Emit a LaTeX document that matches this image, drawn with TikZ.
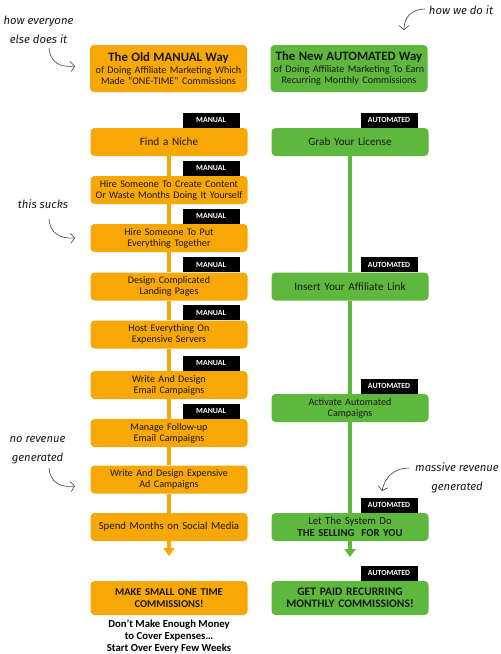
\documentclass[tikz,border=0pt]{standalone}
\usepackage{fontspec}
\setmainfont{Carlito}
\newfontfamily\handfont{Fira Sans}
\usetikzlibrary{arrows.meta}

\definecolor{oldorange}{RGB}{248,168,6}
\definecolor{newgreen}{RGB}{94,184,62}
\definecolor{inktext}{RGB}{25,25,25}

\tikzset{
	stepbox/.style={rounded corners=4pt, minimum width=157pt, minimum height=28pt, inner sep=1pt,
		text width=155pt, align=center, text=inktext, font=\fontsize{10.1}{10.8}\selectfont},
	oldbox/.style={stepbox, fill=oldorange},
	newbox/.style={stepbox, fill=newgreen},
	headbox/.style={stepbox, minimum height=47pt},
	endbox/.style={stepbox, minimum height=34pt, font=\bfseries\fontsize{10.5}{11.5}\selectfont},
	tagbox/.style={fill=black, text=white, font=\bfseries\fontsize{7.8}{8}\selectfont,
		minimum width=57pt, minimum height=15pt, inner sep=0pt, anchor=south east},
	oldline/.style={oldorange, line width=3.5pt},
	newline/.style={newgreen, line width=3.5pt},
	flowtip/.style={-{Triangle[width=11pt,length=8pt]}},
	note/.style={font=\handfont\itshape\fontsize{11.3}{19}\selectfont, text=inktext, align=center, inner sep=0pt},
	notearrow/.style={-{Straight Barb[length=4pt,width=10pt]}, black!75, line width=0.6pt}
}

\begin{document}
\begin{tikzpicture}[x=1pt, y=-1pt]
	\useasboundingbox (0,0) rectangle (501,654);

	% headers
	\node[headbox, fill=oldorange] (oldhead) at (168.5,68.5)
		{{\bfseries\fontsize{12.8}{14}\selectfont The Old MANUAL Way}\\[1pt]of Doing Affiliate Marketing Which\\Made ``ONE-TIME'' Commissions};
	\node[headbox, fill=newgreen] (newhead) at (349,68.5)
		{{\bfseries\fontsize{12.8}{14}\selectfont The New AUTOMATED Way}\\[1pt]of Doing Affiliate Marketing To Earn\\Recurring Monthly Commissions};

	% manual column
	\node[oldbox, font=\fontsize{11.2}{12}\selectfont] (niche) at (169,142) {Find a Niche};
	\node[oldbox] (content) at (169,190) {Hire Someone To Create Content\\Or Waste Months Doing It Yourself};
	\node[oldbox] (together) at (169,238) {Hire Someone To Put\\Everything Together};
	\node[oldbox] (landing) at (169,286.5) {Design Complicated\\Landing Pages};
	\node[oldbox] (servers) at (169,334.5) {Host Everything On\\Expensive Servers};
	\node[oldbox] (email) at (169,385) {Write And Design\\Email Campaigns};
	\node[oldbox] (followup) at (169,433) {Manage Follow-up\\Email Campaigns};
	\node[oldbox] (ads) at (169,479.5) {Write And Design Expensive\\Ad Campaigns};
	\node[oldbox, font=\fontsize{10.8}{12}\selectfont] (social) at (169,527) {Spend Months on Social Media};
	\node[oldbox, endbox] (small) at (169,598) {MAKE SMALL ONE TIME\\COMMISSIONS!};
	\node[font=\bfseries\fontsize{10.7}{12}\selectfont, align=center, text=black, inner sep=0pt] (broke) at (169,636)
		{Don't Make Enough Money\\to Cover Expenses\dots\\Start Over Every Few Weeks};
	\coordinate (oldend) at (169,556);

	% automated column
	\node[newbox, font=\fontsize{11.2}{12}\selectfont] (license) at (350,142) {Grab Your License};
	\node[newbox, font=\fontsize{11.2}{12}\selectfont] (affiliate) at (350,286.5) {Insert Your Affiliate Link};
	\node[newbox] (activate) at (350,408) {Activate Automated\\Campaigns};
	\node[newbox, font=\fontsize{10.7}{11.5}\selectfont] (selling) at (350,527) {Let The System Do\\\textbf{THE SELLING\ \ FOR YOU}};
	\node[newbox, endbox, font=\bfseries\fontsize{11.5}{12.5}\selectfont] (paid) at (350,598) {GET PAID RECURRING\\MONTHLY COMMISSIONS!};
	\coordinate (newend) at (350,557);

	% tags
	\foreach \b in {niche, content, together, landing, servers, email, followup}
		\node[tagbox] (tag-\b) at ([xshift=-8pt]\b.north east) {MANUAL};
	\foreach \b in {license, affiliate, activate, selling, paid}
		\node[tagbox] (tag-\b) at ([xshift=-11pt]\b.north east) {AUTOMATED};

	% connectors
	\draw[oldline] (niche) -- (content);
	\draw[oldline] (content) -- (together);
	\draw[oldline] (together) -- (landing);
	\draw[oldline] (landing) -- (servers);
	\draw[oldline] (servers) -- (email);
	\draw[oldline] (email) -- (followup);
	\draw[oldline] (followup) -- (ads);
	\draw[oldline] (ads) -- (social);
	\draw[oldline, flowtip] (social.south) -- (oldend);
	\draw[newline] (license) -- (affiliate);
	\draw[newline] (affiliate) -- (activate);
	\draw[newline] (activate) -- (selling);
	\draw[newline, flowtip] (selling.south) -- (newend);

	% hand notes
	\node[note] (noteothers) at (38.5,30) {how everyone\\else does it};
	\node[note] (noteus) at (461,10) {how we do it};
	\node[note] (notesucks) at (43,204) {this sucks};
	\node[note] (noteno) at (37.5,450) {no revenue\\generated};
	\node[note] (notemass) at (457,477.5) {massive revenue\\generated};
	\coordinate (aimothers) at (75,66);
	\coordinate (aimus) at (404,30);
	\coordinate (aimsucks) at (75,238);
	\coordinate (aimno) at (75,486);
	\coordinate (aimmass) at (382,491);
	\draw[notearrow] (49,48) .. controls (50,62) and (60,68) .. (aimothers);
	\draw[notearrow] (425,9) .. controls (412,9) and (404,17) .. (aimus);
	\draw[notearrow] (49,219) .. controls (50,233) and (60,239) .. (aimsucks);
	\draw[notearrow] (49,468) .. controls (50,482) and (60,488) .. (aimno);
	\draw[notearrow] (409,468) .. controls (394,468) and (385,477) .. (aimmass);
\end{tikzpicture}
\end{document}
